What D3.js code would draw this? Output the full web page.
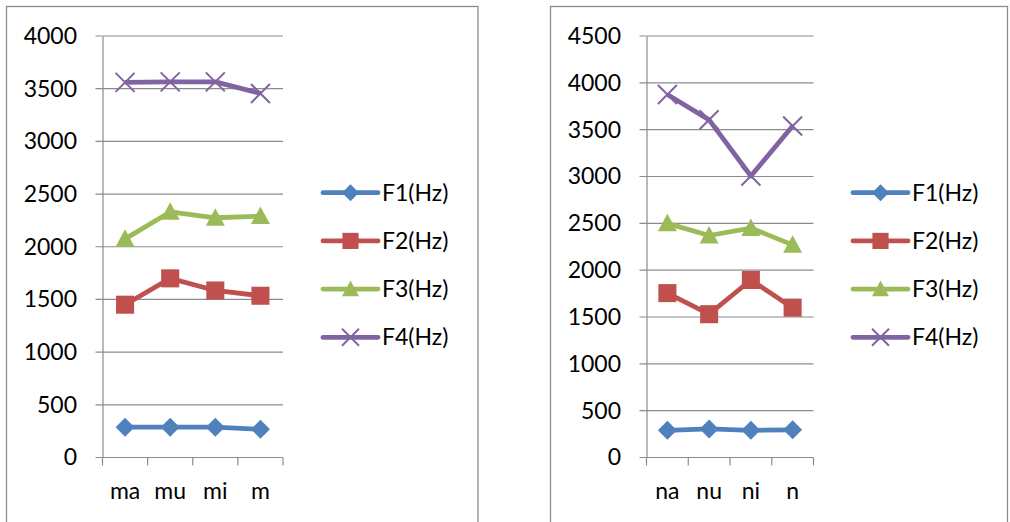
<!DOCTYPE html>
<html>
<head>
<meta charset="utf-8">
<script src="https://cdn.jsdelivr.net/npm/d3@7"></script>
<style>
  body { margin: 0; background: #fff; }
  svg { display: block; font-family: Lato, "Open Sans", sans-serif; }
</style>
</head>
<body>
<div id="chart"></div>
<script>
// series names and colours
const seriesNames = ["F1(Hz)", "F2(Hz)", "F3(Hz)", "F4(Hz)"];
const seriesColors = ["#4f81bd", "#c0504d", "#9bbb59", "#8064a2"];

// left chart
const leftCategories = ["ma", "mu", "mi", "m"];
const leftF1 = [288, 288, 288, 268];
const leftF2 = [1450, 1700, 1585, 1535];
const leftF3 = [2075, 2330, 2275, 2290];
const leftF4 = [3560, 3565, 3565, 3455];
const leftTicks = [0, 500, 1000, 1500, 2000, 2500, 3000, 3500, 4000];

// right chart
const rightCategories = ["na", "nu", "ni", "n"];
const rightF1 = [290, 305, 290, 295];
const rightF2 = [1755, 1530, 1895, 1600];
const rightF3 = [2500, 2370, 2450, 2270];
const rightF4 = [3875, 3605, 3005, 3540];
const rightTicks = [0, 500, 1000, 1500, 2000, 2500, 3000, 3500, 4000, 4500];

const width = 1010, height = 522;
const fontSize = 23;
const svg = d3.select("#chart").append("svg").attr("width", width).attr("height", height);

const panels = [
  { box: [6, 6, 471.5], plot: { left: 102.5, right: 283, top: 36, bottom: 457.5 },
    legendX: 323, cats: leftCategories, series: [leftF1, leftF2, leftF3, leftF4], ticks: leftTicks, max: 4000 },
  { box: [550, 6, 457], plot: { left: 646.5, right: 813.5, top: 36, bottom: 457.5 },
    legendX: 853, cats: rightCategories, series: [rightF1, rightF2, rightF3, rightF4], ticks: rightTicks, max: 4500 }
];

function marker(g, i, color, size) {
  if (i === 0) {
    const s = size / 2;
    g.append("path").attr("d", `M0,${-s}L${s},0L0,${s}L${-s},0Z`).attr("fill", color);
  } else if (i === 1) {
    const s = size * 0.95;
    g.append("rect").attr("x", -s / 2).attr("y", -s / 2).attr("width", s).attr("height", s).attr("fill", color);
  } else if (i === 2) {
    const h = size * 0.92;
    g.append("path").attr("d", `M0,${-h * 0.55}L${size / 2},${h * 0.45}L${-size / 2},${h * 0.45}Z`).attr("fill", color);
  } else {
    const s = size / 2;
    g.append("path").attr("d", `M${-s},${-s}L${s},${s}M${-s},${s}L${s},${-s}`)
      .attr("stroke", color).attr("stroke-width", 2).attr("fill", "none");
  }
}

panels.forEach(p => {
  svg.append("rect").attr("x", p.box[0] + 0.5).attr("y", p.box[1] + 0.5)
    .attr("width", p.box[2]).attr("height", 600)
    .attr("fill", "#fff").attr("stroke", "#8c8c8c").attr("stroke-width", 1.3);

  const x = d3.scaleBand().domain(p.cats).range([p.plot.left, p.plot.right]);
  const y = d3.scaleLinear().domain([0, p.max]).range([p.plot.bottom, p.plot.top]);

  // gridlines
  svg.append("g").selectAll("line").data(p.ticks).join("line")
    .attr("x1", p.plot.left - 7).attr("x2", p.plot.right)
    .attr("y1", d => y(d)).attr("y2", d => y(d))
    .attr("stroke", "#8c8c8c").attr("stroke-width", 1.2);

  // y axis
  const yAxis = svg.append("g").attr("transform", `translate(${p.plot.left},0)`)
    .call(d3.axisLeft(y).tickValues(p.ticks).tickSize(0).tickPadding(25.5).tickFormat(d3.format("d")));
  yAxis.select(".domain").attr("stroke", "#8c8c8c").attr("stroke-width", 1.2);
  yAxis.selectAll("text").attr("font-size", fontSize).attr("fill", "#000").attr("font-family", "Lato, sans-serif");

  // x axis
  const xAxis = svg.append("g").attr("transform", `translate(0,${p.plot.bottom})`)
    .call(d3.axisBottom(x).tickSize(0).tickPadding(25));
  xAxis.select(".domain").remove();
  xAxis.selectAll("text").attr("font-size", fontSize).attr("fill", "#000").attr("font-family", "Lato, sans-serif");
  const edges = p.cats.map(c => x(c)).concat([p.plot.right]);
  svg.append("g").selectAll("line").data(edges).join("line")
    .attr("x1", d => d).attr("x2", d => d)
    .attr("y1", p.plot.bottom).attr("y2", p.plot.bottom + 8)
    .attr("stroke", "#8c8c8c").attr("stroke-width", 1.2);

  const line = d3.line().x((d, i) => x(p.cats[i]) + x.bandwidth() / 2).y(d => y(d));

  p.series.forEach((vals, si) => {
    const color = seriesColors[si];
    svg.append("path").datum(vals).attr("d", line)
      .attr("fill", "none").attr("stroke", color).attr("stroke-width", 4.8).attr("stroke-linejoin", "round");
    vals.forEach((v, i) => {
      const g = svg.append("g").attr("transform", `translate(${x(p.cats[i]) + x.bandwidth() / 2},${y(v)})`);
      marker(g, si, color, 19);
    });
  });

  // legend
  seriesNames.forEach((name, si) => {
    const ly = 192.7 + si * 48.2;
    const color = seriesColors[si];
    svg.append("line").attr("x1", p.legendX).attr("x2", p.legendX + 55)
      .attr("y1", ly).attr("y2", ly)
      .attr("stroke", color).attr("stroke-width", 4.8).attr("stroke-linecap", "round");
    const g = svg.append("g").attr("transform", `translate(${p.legendX + 27.5},${ly})`);
    marker(g, si, color, 17);
    svg.append("text").attr("x", p.legendX + 59).attr("y", ly).attr("dy", "0.35em")
      .attr("font-size", fontSize).attr("fill", "#000").text(name);
  });
});
</script>
</body>
</html>
